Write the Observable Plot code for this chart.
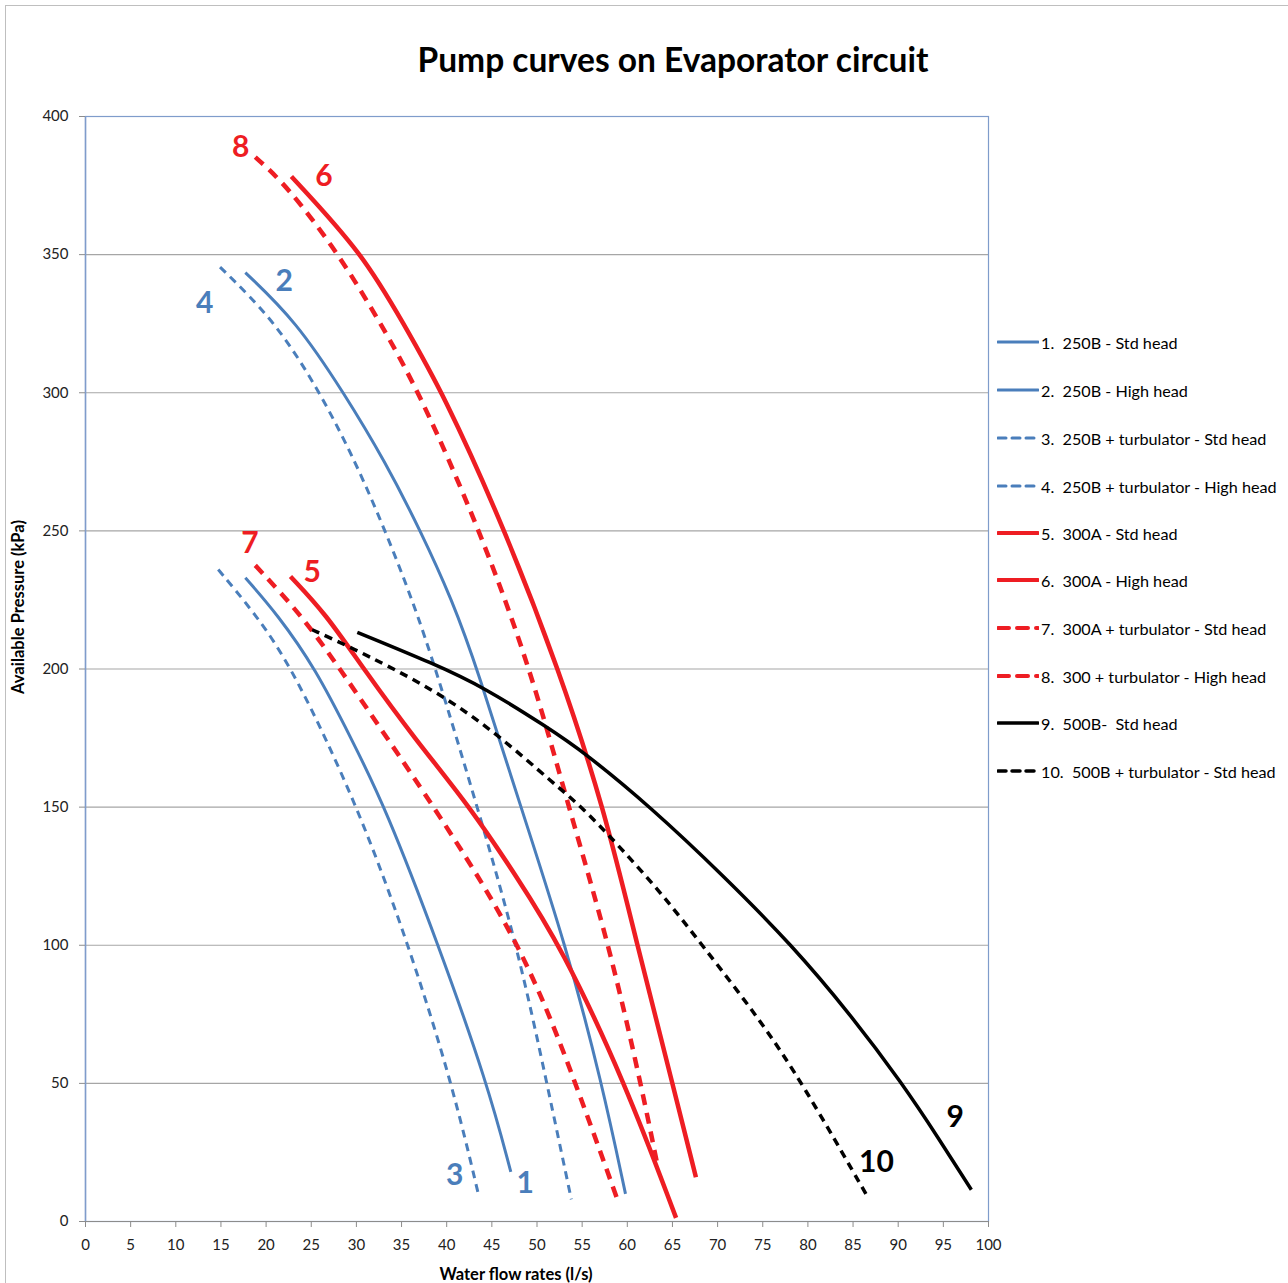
<!DOCTYPE html>
<html>
<head>
<meta charset="utf-8">
<script src="https://cdn.jsdelivr.net/npm/d3@7"></script>
<script src="https://cdn.jsdelivr.net/npm/@observablehq/plot@0.6"></script>
<style>
  body { margin: 0; background: #fff; font-family: Lato, "Open Sans", sans-serif; }
  #wrap { position: relative; width: 1288px; height: 1283px; overflow: hidden; background: #fff; }
  #border { position: absolute; left: 5px; top: 5px; width: 1290px; height: 1290px; border: 1px solid #bfbfbf; box-sizing: border-box; }
  #title { position: absolute; left: 0; width: 1346px; top: 39px; text-align: center; font-weight: bold; font-size: 33.5px; color: #000; }
  #chart { position: absolute; left: 0; top: 0; }
  .ylab { position: absolute; left: 18px; top: 607px; transform: translate(-50%, -50%) rotate(-90deg); font-weight: bold; font-size: 16.5px; white-space: nowrap; color: #000; }
  .xlab { position: absolute; left: 516px; top: 1274px; transform: translate(-50%, -50%); font-weight: bold; font-size: 16.5px; white-space: nowrap; color: #000; }
  #legend { position: absolute; left: 997px; top: 0; }
  .lg { position: absolute; left: 0; display: flex; align-items: center; white-space: nowrap; font-size: 16.2px; color: #000; }
  .lg svg { margin-right: 2px; }
</style>
</head>
<body>
<div id="wrap">
  <div id="border"></div>
  <div id="chart"></div>
  <div id="title">Pump curves on Evaporator circuit</div>
  <div class="ylab">Available Pressure (kPa)</div>
  <div class="xlab">Water flow rates (l/s)</div>
  <div id="legend"></div>
</div>
<script>
// ---- data ----
const seriesNames = [
  "1.  250B - Std head",
  "2.  250B - High head",
  "3.  250B + turbulator - Std head",
  "4.  250B + turbulator - High head",
  "5.  300A - Std head",
  "6.  300A - High head",
  "7.  300A + turbulator - Std head",
  "8.  300 + turbulator - High head",
  "9.  500B-  Std head",
  "10.  500B + turbulator - Std head"
];
const flow1 = [17.7, 21.2, 25.5, 29.4, 33.2, 39.1, 44.5, 47.1];
const pres1 = [233, 220, 200, 175, 150, 100, 50, 18];
const flow2 = [17.7, 23.3, 28.6, 33.2, 37.1, 40.6, 43.4, 48.2, 53.2, 57.2, 59.8];
const pres2 = [343.5, 326, 300, 275, 250, 225, 200, 150, 100, 50, 10];
const flow3 = [14.7, 18.8, 23.0, 30.2, 35.8, 40.6, 43.5];
const pres3 = [236, 220, 200, 150, 100, 50, 10];
const flow4 = [14.9, 21.0, 26.0, 29.9, 33.2, 36.2, 38.8, 43.4, 47.8, 51.1, 53.8];
const pres4 = [345.5, 326, 300, 275, 250, 225, 200, 150, 100, 50, 8];
const flow5 = [22.7, 26.6, 30.8, 36.4, 42.6, 47.7, 52.6, 59.8, 65.4];
const pres5 = [233.5, 220, 200, 175, 150, 125, 100, 50, 1.3];
const flow6 = [22.8, 30.8, 35.2, 39.6, 46.5, 52.4, 57.4, 61.1, 65.0, 67.6];
const pres6 = [378.3, 350, 325, 300, 250, 200, 150, 100, 50, 16];
const flow7 = [18.8, 23.8, 28.2, 33.4, 38.6, 48.4, 54.3, 58.9];
const pres7 = [237.5, 220, 200, 175, 150, 100, 50, 8];
const flow8 = [18.8, 22.3, 28.1, 32.7, 37.0, 43.7, 49.3, 53.5, 58.0, 61.5, 63.3];
const pres8 = [385.3, 375, 350, 325, 300, 250, 200, 150, 100, 50, 21];
const flow9 = [30.1, 38.6, 44.1, 51.1, 55.2, 62.6, 70.7, 78.25, 84.7, 90.44, 94.5, 98.1];
const pres9 = [213.3, 201.9, 193.4, 179, 169.9, 150, 125, 100, 75, 50, 30, 11.5];
const flow10 = [25.1, 28.6, 38.6, 45.6, 51.9, 55.0, 59.2, 64.0, 68.3, 74.75, 79.4, 86.6];
const pres10 = [214.2, 209.1, 192.8, 176.5, 158.4, 150, 135.5, 118, 100, 72.8, 50, 9];

const labelText = ["8", "6", "2", "4", "7", "5", "3", "1", "9", "10"];
const labelFlow = [17.2, 26.4, 22.0, 13.2, 18.2, 25.1, 40.9, 48.7, 96.3, 87.6];
const labelPres = [388.8, 378.3, 340.3, 332.3, 245.4, 235.1, 16.6, 13.7, 37.6, 21.3];

const xTicks = d3.range(0, 101, 5);
const yTicks = d3.range(0, 401, 50);

// ---- styles ----
const BLUE = "#4a7ebb", RED = "#ee1d23", BLACK = "#000000";
const styles = [
  {stroke: BLUE, width: 3, dash: null},
  {stroke: BLUE, width: 3, dash: null},
  {stroke: BLUE, width: 3, dash: "8,6"},
  {stroke: BLUE, width: 3, dash: "8,6"},
  {stroke: RED, width: 4.5, dash: null},
  {stroke: RED, width: 4.5, dash: null},
  {stroke: RED, width: 4.5, dash: "11,8"},
  {stroke: RED, width: 4.5, dash: "11,8"},
  {stroke: BLACK, width: 3.5, dash: null},
  {stroke: BLACK, width: 3.5, dash: "8,6"}
];
const labelColors = [RED, RED, BLUE, BLUE, RED, RED, BLUE, BLUE, BLACK, BLACK];

const flows = [flow1, flow2, flow3, flow4, flow5, flow6, flow7, flow8, flow9, flow10];
const press = [pres1, pres2, pres3, pres4, pres5, pres6, pres7, pres8, pres9, pres10];
const tables = flows.map((f, i) => f.map((v, j) => ({series: seriesNames[i], flow: v, pressure: press[i][j]})));
const labels = labelText.map((t, i) => ({t, flow: labelFlow[i], pressure: labelPres[i], c: labelColors[i]}));

const lineMarks = tables.map((t, i) => Plot.line(t, {
  x: "flow", y: "pressure",
  stroke: styles[i].stroke, strokeWidth: styles[i].width,
  strokeDasharray: styles[i].dash || undefined,
  strokeLinecap: "butt",
  curve: "basis"
}));

const chart = Plot.plot({
  width: 1288, height: 1283,
  marginLeft: 85, marginRight: 300, marginTop: 116, marginBottom: 62,
  style: {fontFamily: "Lato, 'Open Sans', sans-serif", fontSize: "15px", background: "transparent", color: "#222"},
  x: {domain: [0, 100]},
  y: {domain: [0, 400]},
  marks: [
    Plot.gridY(yTicks.filter(d => d > 0 && d < 400), {stroke: "#a6a6a6", strokeOpacity: 1, strokeWidth: 1.2}),
    Plot.frame({stroke: "#7f9ccb", strokeWidth: 1.2}),
    Plot.ruleY([0], {stroke: "#8c8c8c", strokeWidth: 1.2}),
    Plot.ruleX([0], {stroke: "#7f9ccb", strokeWidth: 1.5}),
    Plot.axisX(xTicks, {tickSize: 6, tickPadding: 12, stroke: "#8c8c8c", fontSize: 15, label: null}),
    Plot.axisY(yTicks, {tickSize: 6, tickPadding: 11, stroke: "#8c8c8c", fontSize: 15, label: null}),
    ...lineMarks,
    Plot.text(labels, {x: "flow", y: "pressure", text: "t", fill: "c", fontSize: 30, fontWeight: "bold"})
  ]
});
document.getElementById("chart").appendChild(chart);

// ---- legend ----
const legendY = [342, 390, 438, 486, 533, 580, 628, 676, 723, 771];
const lg = document.getElementById("legend");
seriesNames.forEach((name, i) => {
  const s = styles[i];
  const row = document.createElement("div");
  row.className = "lg";
  row.style.top = (legendY[i] - 11) + "px";
  row.innerHTML = `<svg width="42" height="22"><line x1="1" x2="41" y1="11" y2="11" stroke="${s.stroke}" stroke-width="${Math.min(s.width, 4)}" ${s.dash ? `stroke-dasharray="${s.stroke === RED ? "11,8" : "8,6"}"` : ""} stroke-linecap="round"/></svg><span>${name.replace(/ {2}/g, "&nbsp; ")}</span>`;
  lg.appendChild(row);
});
</script>
</body>
</html>
